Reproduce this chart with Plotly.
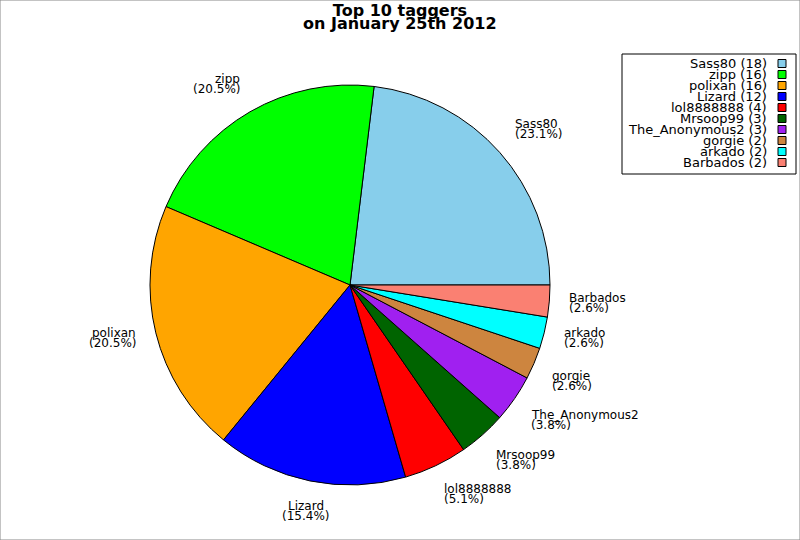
import math
import plotly.graph_objects as go

# Data
taggers = ["Sass80", "zipp", "polixan", "Lizard", "lol8888888",
           "Mrsoop99", "The_Anonymous2", "gorgie", "arkado", "Barbados"]
tag_counts = [18, 16, 16, 12, 4, 3, 3, 2, 2, 2]
slice_colors = ["#87CEEB", "#00FF00", "#FFA500", "#0000FF", "#FF0000",
                "#006400", "#A020F0", "#CD853F", "#00FFFF", "#FA8072"]

W, H = 800, 540
cx, cy, r = 350, 285, 200   # pie centre and radius in pixels
FONT = "DejaVu Sans"

total = sum(tag_counts)


# helpers to go from pixels to paper coords (margins are 0)
def px(x):
    return x / W


def py(y):
    return 1 - y / H


fig = go.Figure()

# the pie itself, first slice starting at 3 o'clock and going counterclockwise
# (plotly shifts counterclockwise pies by the first slice, so undo that)
fig.add_trace(go.Pie(
    labels=taggers,
    values=tag_counts,
    sort=False,
    direction="counterclockwise",
    rotation=90 - 360 * tag_counts[0] / total,
    textinfo="none",
    hoverinfo="label+value+percent",
    showlegend=False,
    marker=dict(colors=slice_colors, line=dict(color="black", width=1)),
    domain=dict(x=[px(cx - r), px(cx + r)], y=[py(cy + r), py(cy - r)]),
))

annotations = []
shapes = []

# slice labels placed at 1.1 * radius from the middle angle of each slice
start = 0.0
for name, count in zip(taggers, tag_counts):
    share = count / total
    mid = (start + share / 2) * 2 * math.pi
    start += share
    c, s = math.cos(mid), math.sin(mid)
    ax = cx + 1.1 * r * c
    ay = cy - 1.1 * r * s

    # annotations carry ~2px padding, pull them in a little
    if abs(c) < 0.3:
        xanchor = "center"
    elif c > 0:
        xanchor = "left"
        ax -= 2
    else:
        xanchor = "right"
        ax += 2

    if s > 0.3:
        block_y = ay - 10
    elif s < -0.3:
        block_y = ay + 10
    else:
        block_y = ay

    for txt, dy in [(name, -5), ("(%.1f%%)" % (100 * share), 5)]:
        annotations.append(dict(
            x=px(ax), y=py(block_y + dy), xref="paper", yref="paper",
            text=txt, showarrow=False, xanchor=xanchor, yanchor="middle",
            font=dict(family=FONT, size=12, color="black"),
        ))

# legend box on the right with the colour squares after the text
shapes.append(dict(type="rect", xref="paper", yref="paper",
                   x0=px(622), x1=px(796), y0=py(174), y1=py(54),
                   line=dict(color="black", width=1), fillcolor="white"))

for i, (name, count, col) in enumerate(zip(taggers, tag_counts, slice_colors)):
    row_y = 63.5 + 11 * i
    annotations.append(dict(
        x=px(769), y=py(row_y), xref="paper", yref="paper",
        text="%s (%d)" % (name, count), showarrow=False,
        xanchor="right", yanchor="middle",
        font=dict(family=FONT, size=13, color="black"),
    ))
    shapes.append(dict(type="rect", xref="paper", yref="paper",
                       x0=px(778), x1=px(786), y0=py(row_y + 4), y1=py(row_y - 4),
                       line=dict(color="black", width=1), fillcolor=col))

# second title line, kept tight under the first
annotations.append(dict(
    x=0.5, y=py(24), xref="paper", yref="paper",
    text="<b>on January 25th 2012</b>", showarrow=False,
    xanchor="center", yanchor="middle",
    font=dict(family=FONT, size=16, color="black"),
))

# thin grey frame round the whole picture
shapes.append(dict(type="rect", xref="paper", yref="paper",
                   x0=0, x1=1, y0=0, y1=1,
                   line=dict(color="#888888", width=1)))

fig.update_layout(
    title=dict(text="<b>Top 10 taggers</b>", x=0.5, xanchor="center",
               y=py(10), yanchor="middle",
               font=dict(family=FONT, size=16, color="black")),
    width=W,
    height=H,
    margin=dict(l=0, r=0, t=0, b=0),
    paper_bgcolor="white",
    plot_bgcolor="white",
    annotations=annotations,
    shapes=shapes,
)

# drop the page's default 8px body margin so the figure sits at 0,0
fig.write_html("out.html", config={"displayModeBar": False},
               post_script="document.body.style.margin='0';")
